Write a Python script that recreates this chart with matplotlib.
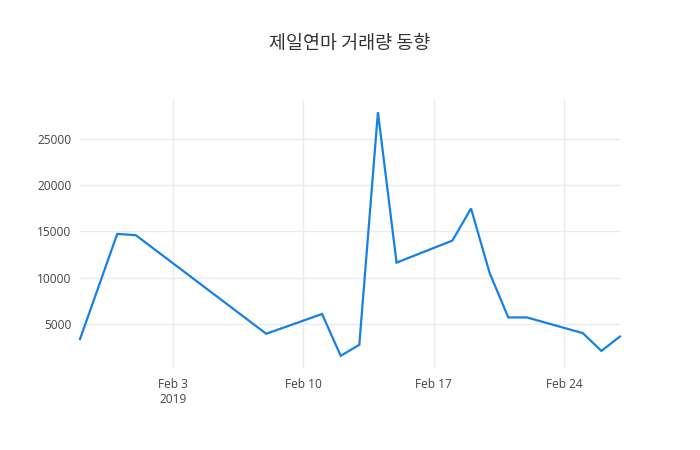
import numpy as np
import matplotlib
matplotlib.use("Agg")
import matplotlib.pyplot as plt

# daily trading volume
dates = ["2019-01-29", "2019-01-31", "2019-02-01", "2019-02-08", "2019-02-11",
         "2019-02-12", "2019-02-13", "2019-02-14", "2019-02-15", "2019-02-18",
         "2019-02-19", "2019-02-20", "2019-02-21", "2019-02-22", "2019-02-25",
         "2019-02-26", "2019-02-27"]
volume = [3370, 14720, 14580, 3950, 6080,
          1570, 2760, 27850, 11620, 14000,
          17460, 10500, 5710, 5710, 4020,
          2100, 3650]
yticks = [5000, 10000, 15000, 20000, 25000]
xtick_dates = ["2019-02-03", "2019-02-10", "2019-02-17", "2019-02-24"]
xtick_labels = ["Feb 3\n2019", "Feb 10", "Feb 17", "Feb 24"]

x = np.array(dates, dtype="datetime64[D]")
xt = np.array(xtick_dates, dtype="datetime64[D]")

fig = plt.figure(figsize=(7, 4.5), dpi=100)
ax = fig.add_axes([80 / 700, (450 - 368) / 450, 540 / 700, 268 / 450])

ax.plot(x, volume, color="#1580e6", lw=1.6, solid_joinstyle="miter", clip_on=False)

span = max(volume) - min(volume)
ax.set_ylim(min(volume) - 0.05 * span, max(volume) + 0.05 * span)
ax.set_xlim(x[0], x[-1])

ax.set_yticks(yticks)
ax.set_yticklabels([str(v) for v in yticks])
ax.set_xticks(xt)
ax.set_xticklabels(xtick_labels)

ax.grid(True, color="#ebebeb", lw=1)
ax.set_axisbelow(True)
for s in ax.spines.values():
    s.set_visible(False)
ax.tick_params(length=0, labelsize=8.6, labelcolor="#444444", pad=6,
               labelfontfamily="Open Sans")
ax.tick_params(axis="x", pad=7)

fig.text(0.5, 1 - 44 / 450, "제일연마 거래량 동향", ha="center", va="center",
         fontsize=13.3, color="#333333",
         family=["Noto Sans CJK KR", "DejaVu Sans"])

fig.savefig("out.png", dpi=100)
